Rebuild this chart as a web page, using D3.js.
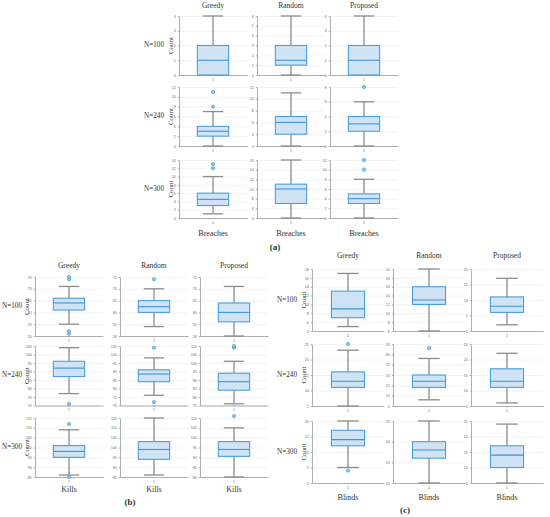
<!DOCTYPE html>
<html>
<head>
<meta charset="utf-8">
<script src="https://cdn.jsdelivr.net/npm/d3@7"></script>
<style>
  body { margin: 0; background: #fff; }
  svg { display: block; }
  .grid line { stroke: #ebebeb; stroke-width: 0.6; }
  .grid .domain { display: none; }
  .axis path, .axis line { stroke: #9a9a9a; stroke-width: 0.8; }
  .axis text { font-family: "Liberation Sans", sans-serif; font-size: 3.6px; fill: #666; }
  .lbl { font-family: "Liberation Serif", serif; fill: #333; }
</style>
</head>
<body>
<script>
let w = 550;
let h = 517;

var methods = ["Greedy", "Random", "Proposed"];
var sizes = ["N=100", "N=240", "N=300"];
var xCats = ["1"];

// [min, q1, median, q3, max] per cell, row by row (N=100, N=240, N=300), Greedy/Random/Proposed
var breachesStats = [
    [0, 0, 1, 2, 4], [0, 1, 1.5, 3, 6], [0, 0, 1, 2, 4],
    [0, 2, 3, 4, 7], [2, 4, 6, 7, 11], [0, 2, 3, 4, 6],
    [1, 3, 4.5, 6, 10], [4, 7, 10, 11, 16], [0, 3, 4, 5, 8]
];
var breachesOutliers = [[], [], [], [8, 11], [], [8], [12, 13], [], [10, 12]];
var breachesDomains = [[0, 4], [0, 6], [0, 4], [0, 12], [2, 12], [0, 8], [0, 14], [4, 16], [0, 12]];
var breachesSteps = [1, 1, 1, 2, 2, 2, 2, 2, 2];

var killsStats = [
    [55, 61, 64, 66, 71], [54, 60, 62.4, 65, 70], [50, 56, 60, 64, 71],
    [77, 87, 92, 96, 104], [76, 84, 88.5, 91, 98], [76, 84, 89, 94, 101],
    [86, 95, 98, 101, 109], [86, 94, 99, 103, 115], [80, 90.5, 94, 98, 105]
];
var killsOutliers = [[51, 52, 74, 75], [74], [], [71], [72, 104], [109, 110], [85, 112], [], [111]];
var killsDomains = [[50, 75], [50, 75], [50, 75], [70, 105], [70, 105], [75, 110], [85, 115], [85, 115], [80, 110]];
var killsSteps = [5, 5, 5, 5, 5, 5, 5, 5, 5];

var blindsStats = [
    [5, 7, 9, 13, 17], [6, 12, 13, 16, 20], [2, 6, 8, 11, 17],
    [5, 11, 13, 16, 23], [8, 14, 17, 20, 28], [6, 11, 13, 17, 22],
    [5, 12, 14, 17, 20], [10, 16, 18, 20, 25], [5, 10, 14, 17, 24]
];
var blindsOutliers = [[], [], [], [25], [33], [], [4], [], []];
var blindsDomains = [[4, 18], [6, 20], [0, 20], [5, 25], [5, 35], [5, 25], [0, 20], [10, 25], [5, 25]];
var blindsSteps = [2, 2, 5, 5, 5, 5, 5, 5, 5];

// panel placement
var panels = [
    {
        stats: breachesStats, outliers: breachesOutliers, domains: breachesDomains, steps: breachesSteps,
        xLabel: "Breaches", tag: "(a)", tagX: 275, tagY: 248,
        cols: [179, 257, 330], plotW: 68,
        rows: [[16, 75], [87, 146], [160, 218]],
        titleY: 8, rowLabelX: 154, countX: 171, xLabelY: 234
    },
    {
        stats: killsStats, outliers: killsOutliers, domains: killsDomains, steps: killsSteps,
        xLabel: "Kills", tag: "(b)", tagX: 130, tagY: 503,
        cols: [35, 120, 200], plotW: 68,
        rows: [[277, 336], [346, 405.5], [418, 477]],
        titleY: 268, rowLabelX: 12, countX: 27, xLabelY: 490
    },
    {
        stats: blindsStats, outliers: blindsOutliers, domains: blindsDomains, steps: blindsSteps,
        xLabel: "Blinds", tag: "(c)", tagX: 405, tagY: 511,
        cols: [312, 393, 471], plotW: 72,
        rows: [[269, 331], [344, 406], [421, 483]],
        titleY: 258, rowLabelX: 287, countX: 304, xLabelY: 498
    }
];

let svg = d3.select("body").append("svg").attr("width", w).attr("height", h);

panels.forEach(function(p) {
    drawPanel(svg, p);
});

function drawPanel(svg, p) {
    // column titles
    methods.forEach(function(m, ci) {
        svg.append("text")
            .attr("class", "lbl")
            .attr("x", p.cols[ci] + p.plotW / 2)
            .attr("y", p.titleY)
            .style("text-anchor", "middle")
            .style("font-size", "7.5px")
            .text(m);
    });

    sizes.forEach(function(s, ri) {
        let top = p.rows[ri][0], bottom = p.rows[ri][1];
        let mid = (top + bottom) / 2;

        svg.append("text")
            .attr("class", "lbl")
            .attr("x", p.rowLabelX)
            .attr("y", mid)
            .style("text-anchor", "middle")
            .style("dominant-baseline", "middle")
            .style("font-size", "7.2px")
            .text(s);

        svg.append("text")
            .attr("class", "lbl")
            .attr("transform", "translate(" + p.countX + ", " + mid + ") rotate(-90)")
            .style("text-anchor", "middle")
            .style("dominant-baseline", "middle")
            .style("font-size", "7px")
            .text("Count");

        methods.forEach(function(m, ci) {
            let idx = ri * 3 + ci;
            let left = p.cols[ci];
            let right = left + p.plotW;
            let dom = p.domains[idx];
            let step = p.steps[idx];
            let ticks = d3.range(dom[0], dom[1] + step / 2, step);

            let yScale = d3.scaleLinear().domain(dom).range([bottom, top]);
            let xScale = d3.scaleBand().domain(xCats).range([left, right]).padding(0.37);

            // grid
            svg.append("g")
                .attr("class", "grid")
                .attr("transform", "translate(" + left + ", 0)")
                .call(d3.axisLeft(yScale).tickValues(ticks).tickSize(-p.plotW).tickFormat(""));

            // axes
            svg.append("g")
                .attr("class", "axis")
                .attr("transform", "translate(" + left + ", 0)")
                .call(d3.axisLeft(yScale).tickValues(ticks).tickFormat(d3.format("~g"))
                    .tickSize(1.2).tickSizeOuter(0).tickPadding(2));

            svg.append("g")
                .attr("class", "axis")
                .attr("transform", "translate(0, " + bottom + ")")
                .call(d3.axisBottom(xScale).tickSize(1.2).tickSizeOuter(0).tickPadding(2));

            let st = p.stats[idx];
            let cx = xScale("1") + xScale.bandwidth() / 2;
            let bw = xScale.bandwidth();
            let capW = bw * 0.65;

            // whiskers
            svg.append("line")
                .attr("x1", cx).attr("x2", cx)
                .attr("y1", yScale(st[0])).attr("y2", yScale(st[1]))
                .style("stroke", "#8c8c8c").style("stroke-width", 1.3);
            svg.append("line")
                .attr("x1", cx).attr("x2", cx)
                .attr("y1", yScale(st[3])).attr("y2", yScale(st[4]))
                .style("stroke", "#8c8c8c").style("stroke-width", 1.3);
            [st[0], st[4]].forEach(function(v) {
                svg.append("line")
                    .attr("x1", cx - capW / 2).attr("x2", cx + capW / 2)
                    .attr("y1", yScale(v)).attr("y2", yScale(v))
                    .style("stroke", "#8c8c8c").style("stroke-width", 1.3);
            });

            // box
            svg.append("rect")
                .attr("x", cx - bw / 2)
                .attr("y", yScale(st[3]))
                .attr("width", bw)
                .attr("height", Math.max(0.5, yScale(st[1]) - yScale(st[3])))
                .style("fill", "#cfe3f4")
                .style("stroke", "#4a9edb")
                .style("stroke-width", 1.1);

            svg.append("line")
                .attr("x1", cx - bw / 2).attr("x2", cx + bw / 2)
                .attr("y1", yScale(st[2])).attr("y2", yScale(st[2]))
                .style("stroke", "#3d94d6").style("stroke-width", 1.1);

            // outliers
            svg.selectAll(null)
                .data(p.outliers[idx])
                .enter()
                .append("circle")
                .attr("cx", cx)
                .attr("cy", function(d) { return yScale(d); })
                .attr("r", 1.6)
                .style("fill", "#9ccbef")
                .style("stroke", "#3d94d6")
                .style("stroke-width", 0.7);
        });
    });

    // bottom labels
    methods.forEach(function(m, ci) {
        svg.append("text")
            .attr("class", "lbl")
            .attr("x", p.cols[ci] + p.plotW / 2)
            .attr("y", p.xLabelY)
            .style("text-anchor", "middle")
            .style("dominant-baseline", "middle")
            .style("font-size", "8px")
            .text(p.xLabel);
    });

    svg.append("text")
        .attr("class", "lbl")
        .attr("x", p.tagX)
        .attr("y", p.tagY)
        .style("text-anchor", "middle")
        .style("dominant-baseline", "middle")
        .style("font-size", "9px")
        .style("font-weight", "bold")
        .text(p.tag);
}
</script>
</body>
</html>
